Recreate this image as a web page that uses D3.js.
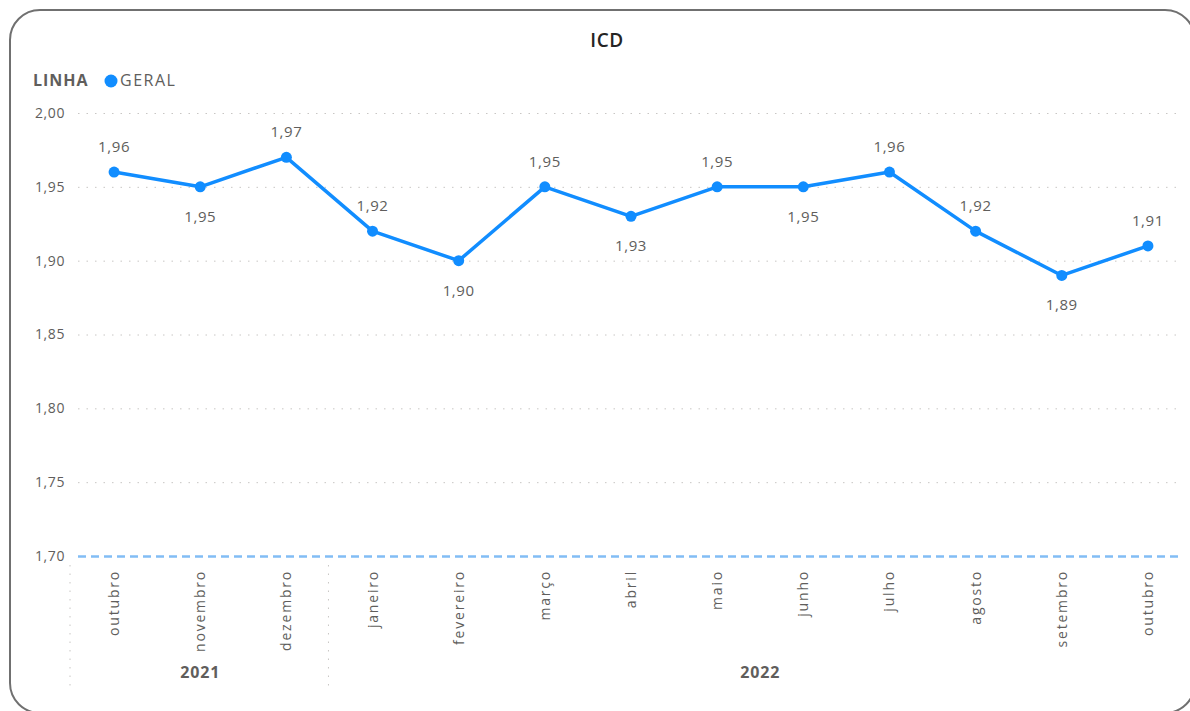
<!DOCTYPE html>
<html>
<head>
<meta charset="utf-8">
<script src="https://cdn.jsdelivr.net/npm/d3@7"></script>
<style>
  body { margin: 0; background: #fff; }
  svg { display: block; font-family: "Open Sans", "Noto Sans", sans-serif; }
</style>
</head>
<body>
<svg id="chart" width="1190" height="711"></svg>
<script>
// data
const months = ["outubro", "novembro", "dezembro", "janeiro", "fevereiro", "março", "abril",
  "maio", "junho", "julho", "agosto", "setembro", "outubro"];
const years = ["2021", "2021", "2021", "2022", "2022", "2022", "2022",
  "2022", "2022", "2022", "2022", "2022", "2022"];
const values = [1.96, 1.95, 1.97, 1.92, 1.90, 1.95, 1.93, 1.95, 1.95, 1.96, 1.92, 1.89, 1.91];
const yTicks = [1.70, 1.75, 1.80, 1.85, 1.90, 1.95, 2.00];

const blue = "#118DFF";
const fmt = v => d3.format(".2f")(v).replace(".", ",");

const svg = d3.select("#chart");

// card border
svg.append("rect")
  .attr("x", 10).attr("y", 10)
  .attr("width", 1185).attr("height", 703)
  .attr("rx", 30).attr("ry", 30)
  .attr("fill", "none")
  .attr("stroke", "#707070")
  .attr("stroke-width", 2);

// title
svg.append("text")
  .attr("x", 607).attr("y", 47)
  .attr("text-anchor", "middle")
  .attr("font-size", 19)
  .attr("font-weight", 600)
  .attr("letter-spacing", 0.5)
  .attr("fill", "#252423")
  .text("ICD");

// legend
svg.append("text")
  .attr("x", 33).attr("y", 86)
  .attr("font-size", 16)
  .attr("font-weight", "bold")
  .attr("letter-spacing", 1)
  .attr("fill", "#605E5C")
  .text("LINHA");
svg.append("circle")
  .attr("cx", 111).attr("cy", 81).attr("r", 6.5)
  .attr("fill", blue);
svg.append("text")
  .attr("x", 120).attr("y", 86)
  .attr("font-size", 16)
  .attr("letter-spacing", 1.5)
  .attr("fill", "#605E5C")
  .text("GERAL");

// scales
const x = d3.scaleBand()
  .domain(d3.range(months.length))
  .range([71, 1191]);

const y = d3.scaleLinear()
  .domain([1.70, 2.00])
  .range([556, 113]);

// y grid + labels
const yAxis = svg.append("g")
  .attr("transform", "translate(78,0)")
  .call(d3.axisLeft(y).tickValues(yTicks).tickFormat(fmt).tickSize(-1104).tickPadding(13));
yAxis.select(".domain").remove();
yAxis.selectAll(".tick line")
  .attr("stroke", "#C8C6C4")
  .attr("stroke-dasharray", "1.5,7");
yAxis.selectAll(".tick")
  .filter(d => d === 1.70)
  .select("line")
  .attr("stroke", "#82BDF5")
  .attr("stroke-width", 2.5)
  .attr("stroke-dasharray", "8,5")
  .attr("x1", 0);
yAxis.selectAll(".tick text")
  .attr("font-size", 14)
  .attr("letter-spacing", 0.6)
  .attr("fill", "#605E5C")
  .attr("font-family", "Open Sans, sans-serif");

// x axis month labels (rotated)
const xAxis = svg.append("g");
xAxis.selectAll("text.month")
  .data(months)
  .enter()
  .append("text")
  .attr("class", "month")
  .attr("transform", (d, i) => `translate(${x(i) + x.bandwidth() / 2 + 5},570)rotate(-90)`)
  .attr("text-anchor", "end")
  .attr("font-size", 14)
  .attr("letter-spacing", 1.8)
  .attr("fill", "#605E5C")
  .text(d => d);

// year groups
const yearGroups = d3.groups(months.map((m, i) => ({ i, year: years[i] })), d => d.year);
yearGroups.forEach(([year, items]) => {
  const x0 = x(items[0].i);
  const x1 = x(items[items.length - 1].i) + x.bandwidth();
  svg.append("text")
    .attr("x", (x0 + x1) / 2)
    .attr("y", 678)
    .attr("text-anchor", "middle")
    .attr("font-size", 16)
    .attr("font-weight", "bold")
    .attr("letter-spacing", 0.8)
    .attr("fill", "#605E5C")
    .text(year);
  svg.append("line")
    .attr("x1", x0 - 1).attr("x2", x0 - 1)
    .attr("y1", 565).attr("y2", 690)
    .attr("stroke", "#C8C6C4")
    .attr("stroke-dasharray", "1.5,7");
});

// line
const cx = i => x(i) + x.bandwidth() / 2;
svg.append("path")
  .datum(values)
  .attr("fill", "none")
  .attr("stroke", blue)
  .attr("stroke-width", 3.5)
  .attr("stroke-linejoin", "round")
  .attr("d", d3.line().x((d, i) => cx(i)).y(d => y(d)));

svg.selectAll("circle.pt")
  .data(values)
  .enter()
  .append("circle")
  .attr("class", "pt")
  .attr("cx", (d, i) => cx(i))
  .attr("cy", d => y(d))
  .attr("r", 5.5)
  .attr("fill", blue);

// data labels: below at local lows, above otherwise
function below(i) {
  const v = values[i];
  const prev = i > 0 ? values[i - 1] : Infinity;
  const next = i < values.length - 1 ? values[i + 1] : Infinity;
  return v <= prev && v < next;
}
svg.selectAll("text.lbl")
  .data(values)
  .enter()
  .append("text")
  .attr("class", "lbl")
  .attr("x", (d, i) => cx(i))
  .attr("y", (d, i) => below(i) ? y(d) + 35 : y(d) - 20)
  .attr("text-anchor", "middle")
  .attr("font-size", 15)
  .attr("letter-spacing", 0.6)
  .attr("fill", "#605E5C")
  .text(d => fmt(d));
</script>
</body>
</html>
